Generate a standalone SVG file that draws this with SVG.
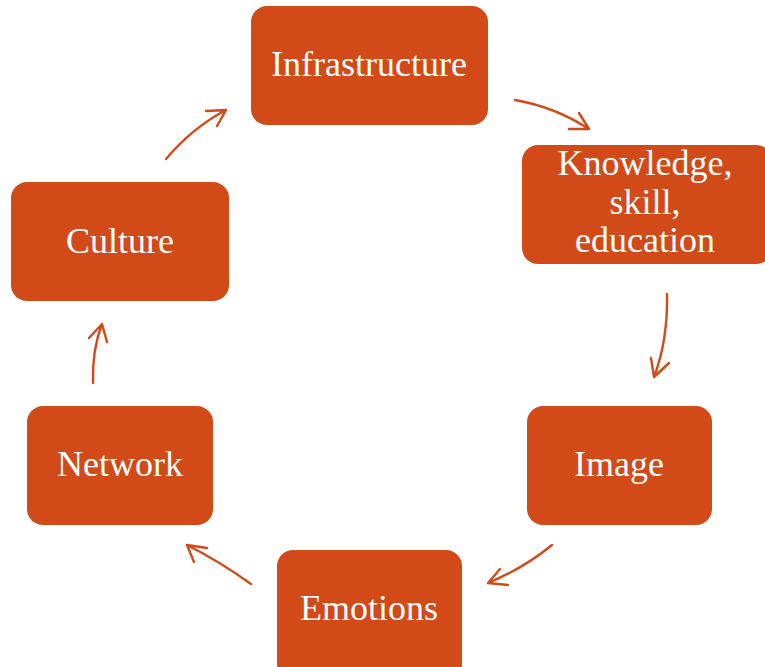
<svg xmlns="http://www.w3.org/2000/svg" width="765" height="667" viewBox="0 0 765 667">
<style>
.box{fill:#D24A18;}
.lbl{fill:#ffffff;font-family:"Liberation Serif","Times New Roman",serif;font-size:36px;text-anchor:middle;}
.arr{fill:none;stroke:#D24A18;stroke-width:2.4;stroke-linecap:round;stroke-linejoin:round;}
</style>
<rect width="765" height="667" fill="#ffffff"/>
<g id="node-infrastructure">
<rect class="box" x="251" y="6" width="237" height="119" rx="16"/>
<text class="lbl" x="369" y="76">Infrastructure</text>
</g>
<g id="node-knowledge">
<rect class="box" x="522" y="145" width="250" height="119" rx="16"/>
<text class="lbl" x="645" y="175">Knowledge,</text>
<text class="lbl" x="645" y="214">skill,</text>
<text class="lbl" x="645" y="252">education</text>
</g>
<g id="node-image">
<rect class="box" x="527" y="406" width="185" height="119" rx="16"/>
<text class="lbl" x="619" y="476">Image</text>
</g>
<g id="node-emotions">
<rect class="box" x="277" y="550" width="185" height="130" rx="16"/>
<text class="lbl" x="369" y="620">Emotions</text>
</g>
<g id="node-network">
<rect class="box" x="27" y="406" width="186" height="119" rx="16"/>
<text class="lbl" x="120" y="476">Network</text>
</g>
<g id="node-culture">
<rect class="box" x="11" y="182" width="218" height="119" rx="16"/>
<text class="lbl" x="120" y="253">Culture</text>
</g>
<g id="connectors">
<path class="arr" d="M166,159 Q192,128 226,110 M206,111 L226,110 L217,126"/>
<path class="arr" d="M515,100 Q555,107 589,129 M569,129 L589,129 L579,113"/>
<path class="arr" d="M667,294 Q668,340 654,377 M651,358 L654,377 L669,363"/>
<path class="arr" d="M552,545 Q524,568 488,583 M500,569 L488,583 L508,585"/>
<path class="arr" d="M251,584 Q219,561 187,545 M207,548 L187,545 L194,562"/>
<path class="arr" d="M93,383 Q92,350 102,324 M89,338 L102,324 L107,342"/>
</g>
</svg>
